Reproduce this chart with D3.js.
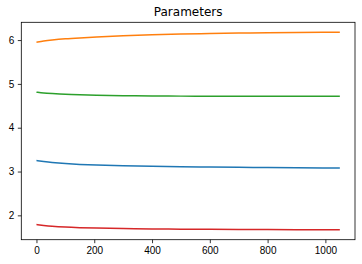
<!DOCTYPE html>
<html>
<head>
<meta charset="utf-8">
<script src="https://cdn.jsdelivr.net/npm/d3@7"></script>
<style>
  body { margin: 0; background: #fff; }
  svg { display: block; font-family: "DejaVu Sans", sans-serif; }
  .tick text { font-size: 10px; fill: #000; }
  .tick line { stroke: #000; stroke-width: 0.8; }
  .domain { display: none; }
</style>
</head>
<body>
<script>
const width = 362;
const height = 264;
const margin = {top: 22.3, right: 7, bottom: 24.3, left: 21.3};

const steps = [0, 25, 50, 100, 150, 200, 300, 400, 500, 600, 700, 800, 900, 1000, 1050];

const blue   = [3.25, 3.23, 3.21, 3.18, 3.16, 3.15, 3.13, 3.12, 3.11, 3.10, 3.095, 3.09, 3.085, 3.08, 3.08];
const orange = [5.95, 5.98, 6.00, 6.03, 6.05, 6.07, 6.10, 6.12, 6.14, 6.15, 6.16, 6.17, 6.175, 6.18, 6.18];
const green  = [4.81, 4.79, 4.78, 4.76, 4.75, 4.74, 4.73, 4.725, 4.72, 4.72, 4.72, 4.72, 4.72, 4.72, 4.72];
const red    = [1.79, 1.77, 1.75, 1.73, 1.72, 1.71, 1.70, 1.69, 1.685, 1.68, 1.68, 1.675, 1.67, 1.67, 1.67];

const xTicks = [0, 200, 400, 600, 800, 1000];
const yTicks = [2, 3, 4, 5, 6];

const series = [
    {values: blue, color: '#1f77b4'},
    {values: orange, color: '#ff7f0e'},
    {values: green, color: '#2ca02c'},
    {values: red, color: '#d62728'}
];

const svg = d3.select('body').append('svg')
    .attr('width', width)
    .attr('height', height);

const innerW = width - margin.left - margin.right;
const innerH = height - margin.top - margin.bottom;

// matplotlib style 5% padding around the data
const xMin = d3.min(steps), xMax = d3.max(steps);
const allY = [].concat(blue, orange, green, red);
const yMin = d3.min(allY), yMax = d3.max(allY);
const xPad = (xMax - xMin) * 0.05, yPad = (yMax - yMin) * 0.05;

const xScale = d3.scaleLinear()
    .domain([xMin - xPad, xMax + xPad])
    .range([0, innerW]);
const yScale = d3.scaleLinear()
    .domain([yMin - yPad, yMax + yPad])
    .range([innerH, 0]);

const g = svg.append('g')
    .attr('transform', 'translate(' + margin.left + ',' + margin.top + ')');

const line = d3.line()
    .x((d, i) => xScale(steps[i]))
    .y(d => yScale(d))
    .curve(d3.curveBasis);

series.forEach(s => {
    g.append('path')
        .attr('d', line(s.values))
        .attr('fill', 'none')
        .attr('stroke', s.color)
        .attr('stroke-width', 1.5);
});

g.append('g')
    .attr('transform', 'translate(0,' + innerH + ')')
    .call(d3.axisBottom(xScale).tickValues(xTicks).tickFormat(d3.format('d'))
        .tickSize(3.5).tickPadding(3.5));

g.append('g')
    .call(d3.axisLeft(yScale).tickValues(yTicks).tickFormat(d3.format('d'))
        .tickSize(3.5).tickPadding(3.5));

// frame
g.append('rect')
    .attr('width', innerW)
    .attr('height', innerH)
    .attr('fill', 'none')
    .attr('stroke', '#000')
    .attr('stroke-width', 0.8);

svg.append('text')
    .attr('x', margin.left + innerW / 2)
    .attr('y', margin.top - 6)
    .attr('text-anchor', 'middle')
    .style('font-size', '12px')
    .text('Parameters');
</script>
</body>
</html>
